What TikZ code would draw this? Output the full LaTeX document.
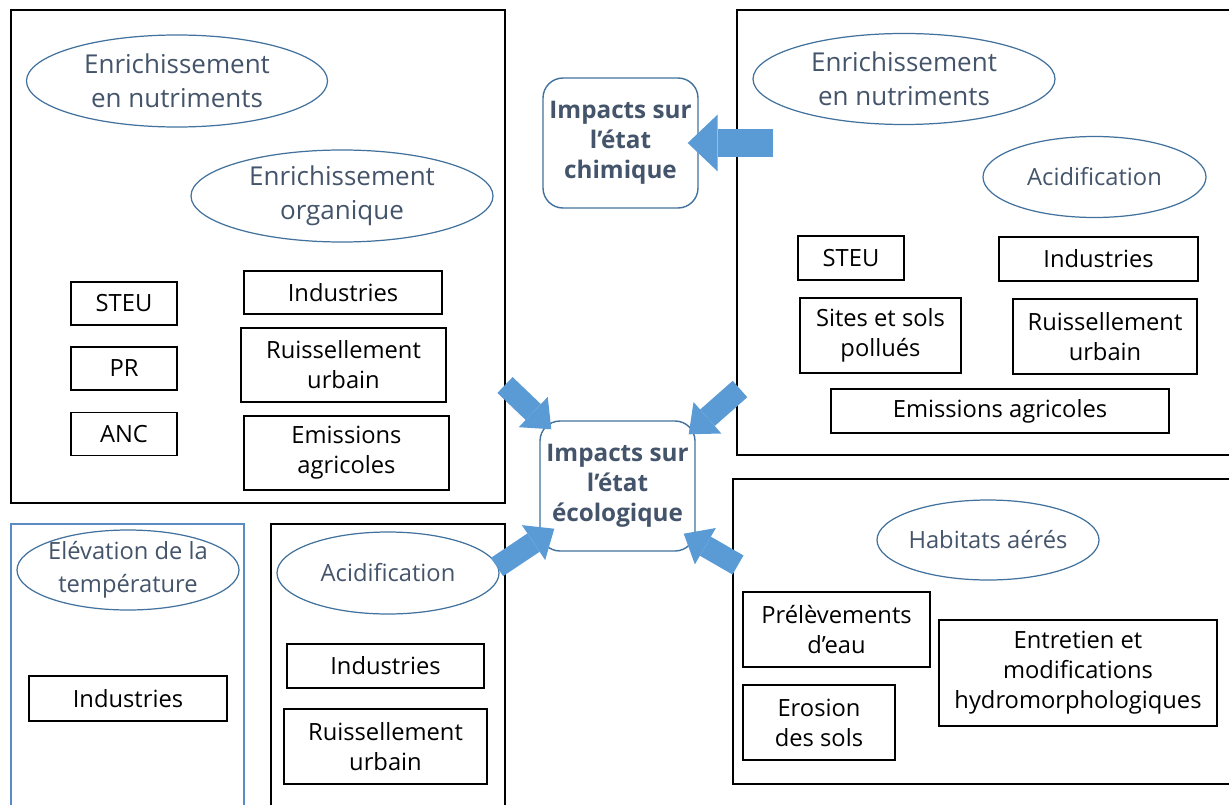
\documentclass[tikz,border=0pt]{standalone}
\usepackage{fontspec}
\setmainfont{Open Sans}
\usetikzlibrary{shapes.geometric, arrows.meta}
\definecolor{linkblue}{HTML}{41719C}
\definecolor{framebl}{HTML}{5B8BC4}
\definecolor{arrowblue}{HTML}{5B9BD5}
\definecolor{slate}{HTML}{44546A}

\begin{document}
\begin{tikzpicture}[
  x=0.02cm, y=-0.02cm,
  sz/.style 2 args={minimum width=#1*0.02cm, minimum height=#2*0.02cm},
  source/.style={
    rectangle, draw=black, line width=0.8pt, inner sep=1pt,
    align=center, font=\fontsize{13.5}{17}\selectfont,
  },
  theme/.style={
    ellipse, draw=linkblue, line width=0.7pt, inner xsep=-0.4cm, inner ysep=-0.3cm,
    align=center, text=slate, font=\fontsize{13.5}{19}\selectfont,
  },
  bigtheme/.style={theme, font=\fontsize{14.8}{19.5}\selectfont},
  impact/.style={
    rectangle, rounded corners=0.4cm, draw=linkblue, line width=0.8pt,
    align=center, text=slate, font=\bfseries\fontsize{13.8}{17}\selectfont,
  },
  zone/.style={draw=black, line width=0.9pt},
  bigarrow/.style={
    arrowblue, line width=0.44cm,
    -{Triangle[length=0.5cm, width=0.84cm, line width=0pt]},
  },
]
  \clip (0,0) rectangle (1229,804);

  % Frames
  \draw[zone] (11,10) rectangle (505,503);
  \draw[zone] (737,10) rectangle (1240,455);
  \draw[zone, draw=framebl] (11,524) rectangle (244,815);
  \draw[zone] (271,524) rectangle (505,815);
  \draw[zone] (733,479) rectangle (1240,784);

  % Top left
  \node[bigtheme, sz={301}{92}] (nutL) at (177,81) {Enrichissement\\en nutriments};
  \node[bigtheme, sz={302}{92}] (orgL) at (342,196) {Enrichissement\\organique};
  \node[source, sz={106}{43}] (steuL) at (124,303.5) {STEU};
  \node[source, sz={106}{43}] (prL) at (124,368.5) {PR};
  \node[source, sz={106}{43}] (ancL) at (124,434) {ANC};
  \node[source, sz={198}{43}] (indL) at (343,292.5) {Industries};
  \node[source, sz={205}{74}] (ruiL) at (343.5,365) {Ruissellement\\urbain};
  \node[source, sz={205}{74}] (emiL) at (346.5,453) {Emissions\\agricoles};

  % Top right
  \node[bigtheme, sz={302}{91}] (nutR) at (904,79) {Enrichissement\\en nutriments};
  \node[theme, sz={223}{81}] (acidR) at (1094.5,177) {Acidification};
  \node[source, sz={106}{44}] (steuR) at (851,258) {STEU};
  \node[source, sz={199}{44}] (indR) at (1098.5,259) {Industries};
  \node[source, sz={161}{75}] (sitR) at (880.5,335.5) {Sites et sols\\pollués};
  \node[source, sz={184}{75}] (ruiR) at (1105,336.5) {Ruissellement\\urbain};
  \node[source, sz={338}{44}] (emiR) at (1000,411) {Emissions agricoles};

  % Impacts
  \node[impact, sz={155}{130}] (chim) at (620.5,143) {Impacts sur\\l’état\\chimique};
  \node[impact, sz={155}{130}] (eco) at (617.5,486) {Impacts sur\\l’état\\écologique};

  % Bottom left
  \node[theme, sz={222}{80}] (tempBL) at (128,570) {Elévation de la\\température};
  \node[source, sz={198}{45}] (indBL) at (128,698.5) {Industries};

  % Bottom middle
  \node[theme, sz={222}{82}] (acidM) at (388,573) {Acidification};
  \node[source, sz={197}{44}] (indM) at (385.5,666) {Industries};
  \node[source, sz={203}{75}] (ruiM) at (385.5,746.5) {Ruissellement\\urbain};

  % Bottom right
  \node[theme, sz={222}{80}] (habR) at (988,540) {Habitats aérés};
  \node[source, sz={187}{75}] (prelR) at (836.5,629.5) {Prélèvements\\d’eau};
  \node[source, sz={278}{106}] (entR) at (1078,673) {Entretien et\\modifications\\hydromorphologiques};
  \node[source, sz={152}{75}] (eroR) at (819,722.5) {Erosion\\des sols};

  % Arrows
  \coordinate (fromChim) at (773,143);
  \coordinate (fromTL) at (505,385);
  \coordinate (fromTR) at (740,389);
  \coordinate (fromBL) at (497,567);
  \coordinate (fromBR) at (738,565);
  \draw[bigarrow, line width=0.58cm, -{Triangle[length=0.6cm, width=1.14cm, line width=0pt]}]
    (fromChim) -- ([shift={(-11,0)}]chim.east);
  \draw[bigarrow] (fromTL) -- ([shift={(12,9)}]eco.north west);
  \draw[bigarrow] (fromTR) -- ([shift={(-7,14)}]eco.north east);
  \draw[bigarrow] (fromBL) -- ([shift={(15,-23)}]eco.south west);
  \draw[bigarrow] (fromBR) -- ([shift={(-12,-18)}]eco.south east);
\end{tikzpicture}
\end{document}
